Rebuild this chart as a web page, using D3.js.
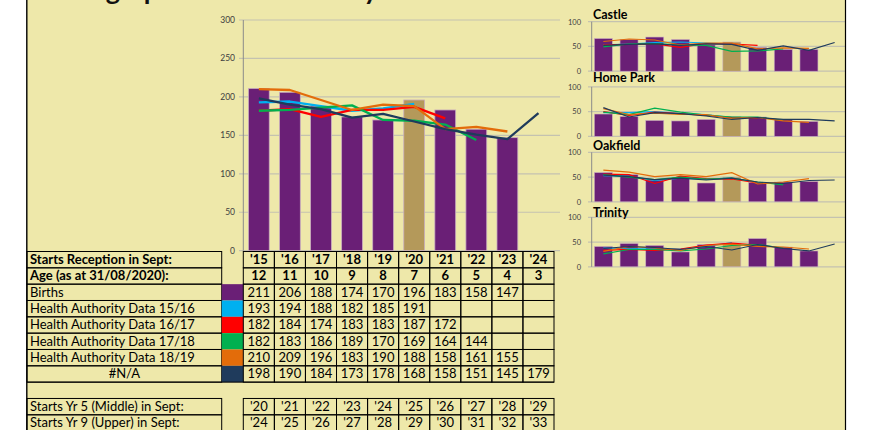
<!DOCTYPE html>
<html>
<head>
<meta charset="utf-8">
<script src="https://cdn.jsdelivr.net/npm/d3@7"></script>
<style>
  body { margin: 0; background: #fff; }
  svg { display: block; font-family: Lato, "Liberation Sans", sans-serif; }
</style>
</head>
<body>
<div id="chart"></div>
<script>
var width = 874,
    height = 430;

// main chart data
var cats = ["'15", "'16", "'17", "'18", "'19", "'20", "'21", "'22", "'23", "'24"];
var ages = ["12", "11", "10", "9", "8", "7", "6", "5", "4", "3"];
var births = [211, 206, 188, 174, 170, 196, 183, 158, 147, null];
var ha1516 = [193, 194, 188, 182, 185, 191, null, null, null, null];
var ha1617 = [182, 184, 174, 183, 183, 187, 172, null, null, null];
var ha1718 = [182, 183, 186, 189, 170, 169, 164, 144, null, null];
var ha1819 = [210, 209, 196, 183, 190, 188, 158, 161, 155, null];
var naSeries = [198, 190, 184, 173, 178, 168, 158, 151, 145, 179];
var yr5 = ["'20", "'21", "'22", "'23", "'24", "'25", "'26", "'27", "'28", "'29"];
var yr9 = ["'24", "'25", "'26", "'27", "'28", "'29", "'30", "'31", "'32", "'33"];
var mainTicks = [0, 50, 100, 150, 200, 250, 300];

// small multiples
var schools = ["Castle", "Home Park", "Oakfield", "Trinity"];
var castleBirths = [66, 64, 69, 64, 53, 59, 48, 44, 44, null];
var castleHa1516 = [53, 55, 58, 59, 57, 55, null, null, null, null];
var castleHa1617 = [53, 54, 55, 48, 56, 55, 52, null, null, null];
var castleHa1718 = [49, 55, 56, 53, 52, 40, 41, 45, null, null];
var castleHa1819 = [60, 65, 63, 53, 57, 57, 45, 47, 46, null];
var castleNA = [52, 54, 55, 52, 55, 54, 42, 51, 42, 58];

var homeBirths = [45, 40, 32, 31, 34, 40, 39, 34, 30, null];
var homeHa1516 = [48, 48, 50, 46, 44, 38, null, null, null, null];
var homeHa1617 = [50, 42, 49, 46, 42, 38, 37, null, null, null];
var homeHa1718 = [49, 44, 57, 49, 43, 39, 39, 32, null, null];
var homeHa1819 = [56, 44, 47, 44, 44, 36, 38, 31, 28, null];
var homeNA = [58, 39, 48, 46, 41, 34, 38, 34, 34, 31];

var oakBirths = [59, 55, 44, 49, 38, 50, 39, 40, 41, null];
var oakHa1516 = [53, 52, 43, 48, 46, 48, null, null, null, null];
var oakHa1617 = [56, 55, 37, 52, 47, 46, 38, null, null, null];
var oakHa1718 = [55, 50, 45, 50, 46, 48, 40, 34, null, null];
var oakHa1819 = [64, 60, 51, 55, 51, 59, 36, 40, 47, null];
var oakNA = [54, 51, 45, 48, 44, 48, 40, 37, 43, 44];

var trinBirths = [41, 47, 43, 30, 45, 47, 57, 40, 32, null];
var trinHa1516 = [38, 37, 36, 36, 41, 49, null, null, null, null];
var trinHa1617 = [33, 35, 33, 36, 44, 48, 44, null, null, null];
var trinHa1718 = [26, 35, 35, 32, 36, 43, 45, 38, null, null];
var trinHa1819 = [31, 41, 38, 33, 43, 46, 41, 40, 36, null];
var trinNA = [37, 41, 39, 35, 41, 34, 45, 37, 32, 46];
var smallTicks = [0, 50, 100];

var purple = "#6a1f76",
    tan = "#b4995a",
    lineColors = ["#00b0f0", "#ff0000", "#00b050", "#e36c0a", "#1f3b5c"],
    rowLabels = ["Births", "Health Authority Data 15/16", "Health Authority Data 16/17",
                 "Health Authority Data 17/18", "Health Authority Data 18/19", "#N/A"];

var svg = d3.select("#chart")
  .append("svg")
  .attr("width", width)
  .attr("height", height);

svg.append("rect")
  .attr("x", 27).attr("y", 0)
  .attr("width", 845.5 - 27).attr("height", height)
  .attr("fill", "#eee8aa");

// title, scrolled almost out of view at the top
svg.append("text")
  .attr("x", 33).attr("y", 0.3)
  .attr("font-size", 27).attr("font-weight", "bold")
  .attr("fill", "#111")
  .text("Demographic Data Summary");

// ---------- main chart ----------
var x = d3.scaleBand().domain(cats).range([243.3, 554]).paddingInner(0.33).paddingOuter(0.165);
var y = d3.scaleLinear().domain([0, 300]).range([250.7, 20]);

var main = svg.append("g");

main.selectAll(".grid")
  .data(mainTicks)
  .enter().append("line")
  .attr("x1", 239).attr("x2", 560)
  .attr("y1", function(d) { return y(d); })
  .attr("y2", function(d) { return y(d); })
  .attr("stroke", "#c4c2b0")
  .attr("stroke-width", 1.2);

main.selectAll(".ylab")
  .data(mainTicks)
  .enter().append("text")
  .attr("x", 235).attr("y", function(d) { return y(d) + 3; })
  .attr("text-anchor", "end")
  .attr("font-size", 8.5)
  .attr("fill", "#404040")
  .text(function(d) { return d; });

main.append("line")
  .attr("x1", 243.3).attr("x2", 243.3)
  .attr("y1", y(300)).attr("y2", y(0))
  .attr("stroke", "#8a8a8a");

main.selectAll(".bar")
  .data(births)
  .enter().filter(function(d) { return d != null; }).append("rect")
  .attr("x", function(d, i) { return x(cats[i]); })
  .attr("y", function(d) { return y(d); })
  .attr("width", x.bandwidth())
  .attr("height", function(d) { return y(0) - y(d); })
  .attr("fill", function(d, i) { return i == 5 ? tan : purple; })
  .attr("stroke", "#c9aebf")
  .attr("stroke-width", 0.8);

var mainSeries = [ha1516, ha1617, ha1718, ha1819, naSeries];

var mainLine = d3.line()
  .defined(function(d) { return d != null; })
  .x(function(d, i) { return x(cats[i]) + x.bandwidth() / 2; })
  .y(function(d) { return y(d); });

main.selectAll(".series")
  .data(mainSeries)
  .enter().append("path")
  .attr("d", mainLine)
  .attr("fill", "none")
  .attr("stroke", function(d, i) { return lineColors[i]; })
  .attr("stroke-width", 2.3)
  .attr("stroke-linejoin", "round");

// ---------- table ----------
var rowH = 16.33,
    top0 = 251.5,
    labelX0 = 27,
    labelX1 = 221.7,
    swX1 = 243.3;

function rowTop(r) { return top0 + r * rowH; }
function colLeft(i) { return x(cats[i]) - (x.step() - x.bandwidth()) / 2; }

var table = svg.append("g");

var tableRows = [
  { label: "Starts Reception in Sept:", cells: cats, bold: true, r: 0 },
  { label: "Age (as at 31/08/2020):", cells: ages, bold: true, r: 1 }
];
[births, ha1516, ha1617, ha1718, ha1819, naSeries].forEach(function(s, k) {
  tableRows.push({ label: rowLabels[k], cells: s, bold: false, r: k + 2, swatch: k == 0 ? purple : lineColors[k - 1], center: k == 5 });
});
tableRows.push({ label: "Starts Yr 5 (Middle) in Sept:", cells: yr5, bold: false, r: 9 });
tableRows.push({ label: "Starts Yr 9 (Upper) in Sept:", cells: yr9, bold: false, r: 10 });

tableRows.forEach(function(row) {
  var t = rowTop(row.r);
  table.append("rect")
    .attr("x", labelX0).attr("y", t)
    .attr("width", labelX1 - labelX0).attr("height", rowH)
    .attr("fill", "none").attr("stroke", "#000").attr("stroke-width", 1);
  table.append("text")
    .attr("x", row.center ? (labelX0 + labelX1) / 2 : 30)
    .attr("y", t + 12.6)
    .attr("text-anchor", row.center ? "middle" : "start")
    .attr("font-size", 13)
    .attr("font-weight", row.bold ? "bold" : "normal")
    .attr("fill", "#000")
    .text(row.label);
  if (row.swatch) {
    table.append("rect")
      .attr("x", labelX1).attr("y", t)
      .attr("width", swX1 - labelX1).attr("height", rowH)
      .attr("fill", row.swatch);
  }
  row.cells.forEach(function(v, i) {
    table.append("rect")
      .attr("x", colLeft(i)).attr("y", t)
      .attr("width", x.step()).attr("height", rowH)
      .attr("fill", "none").attr("stroke", "#000").attr("stroke-width", 1);
    if (v != null) {
      table.append("text")
        .attr("x", colLeft(i) + x.step() / 2)
        .attr("y", t + 12.6)
        .attr("text-anchor", "middle")
        .attr("font-size", 13)
        .attr("font-weight", row.bold ? "bold" : "normal")
        .attr("fill", "#000")
        .text(v);
    }
  });
});

// blank row between the two blocks
table.append("line")
  .attr("x1", labelX0).attr("x2", colLeft(9) + x.step())
  .attr("y1", rowTop(8)).attr("y2", rowTop(8))
  .attr("stroke", "#000");

// ---------- small multiples ----------
var sx = d3.scaleBand().domain(cats).range([590.5, 847.5]).paddingInner(0.3).paddingOuter(0.15);
var schoolTops = [21.7, 86.8, 152.3, 217.3];
var titleOffsets = [2.3, 4.5, 2.5, 0.5];
var schoolData = [
  [castleBirths, castleHa1516, castleHa1617, castleHa1718, castleHa1819, castleNA],
  [homeBirths, homeHa1516, homeHa1617, homeHa1718, homeHa1819, homeNA],
  [oakBirths, oakHa1516, oakHa1617, oakHa1718, oakHa1819, oakNA],
  [trinBirths, trinHa1516, trinHa1617, trinHa1718, trinHa1819, trinNA]
];

schools.forEach(function(name, k) {
  var top = schoolTops[k];
  var sy = d3.scaleLinear().domain([0, 100]).range([top + 49.5, top]);
  var g = svg.append("g");

  g.selectAll(".grid")
    .data(smallTicks)
    .enter().append("line")
    .attr("x1", 588).attr("x2", 845)
    .attr("y1", function(d) { return sy(d); })
    .attr("y2", function(d) { return sy(d); })
    .attr("stroke", "#c4c2b0")
    .attr("stroke-width", 1.2);

  g.selectAll(".ylab")
    .data(smallTicks)
    .enter().append("text")
    .attr("x", 581).attr("y", function(d) { return sy(d) + 2.8; })
    .attr("text-anchor", "end")
    .attr("font-size", 7.5)
    .attr("fill", "#404040")
    .text(function(d) { return d; });

  g.append("line")
    .attr("x1", 591.7).attr("x2", 591.7)
    .attr("y1", sy(100)).attr("y2", sy(0))
    .attr("stroke", "#8a8a8a");

  var bars = schoolData[k][0];
  g.selectAll(".bar")
    .data(bars)
    .enter().filter(function(d) { return d != null; }).append("rect")
    .attr("x", function(d, i) { return sx(cats[i]); })
    .attr("y", function(d) { return sy(d); })
    .attr("width", sx.bandwidth())
    .attr("height", function(d) { return sy(0) - sy(d); })
    .attr("fill", function(d, i) { return i == 5 ? tan : purple; })
    .attr("stroke", "#c9aebf")
    .attr("stroke-width", 0.6);

  var smallLine = d3.line()
    .defined(function(d) { return d != null; })
    .x(function(d, i) { return sx(cats[i]) + sx.bandwidth() / 2; })
    .y(function(d) { return sy(d); });

  g.selectAll(".series")
    .data(schoolData[k].slice(1))
    .enter().append("path")
    .attr("d", smallLine)
    .attr("fill", "none")
    .attr("stroke", function(d, i) { return lineColors[i]; })
    .attr("stroke-width", 1.2);

  g.append("text")
    .attr("x", 593).attr("y", top - titleOffsets[k])
    .attr("font-size", 12.5)
    .attr("font-weight", "bold")
    .attr("fill", "#000")
    .text(name);
});

// sheet edges
svg.append("line")
  .attr("x1", 26.8).attr("x2", 26.8).attr("y1", 0).attr("y2", height)
  .attr("stroke", "#000").attr("stroke-width", 1.4);
svg.append("line")
  .attr("x1", 845.5).attr("x2", 845.5).attr("y1", 0).attr("y2", height)
  .attr("stroke", "#000").attr("stroke-width", 1.2);
</script>
</body>
</html>
